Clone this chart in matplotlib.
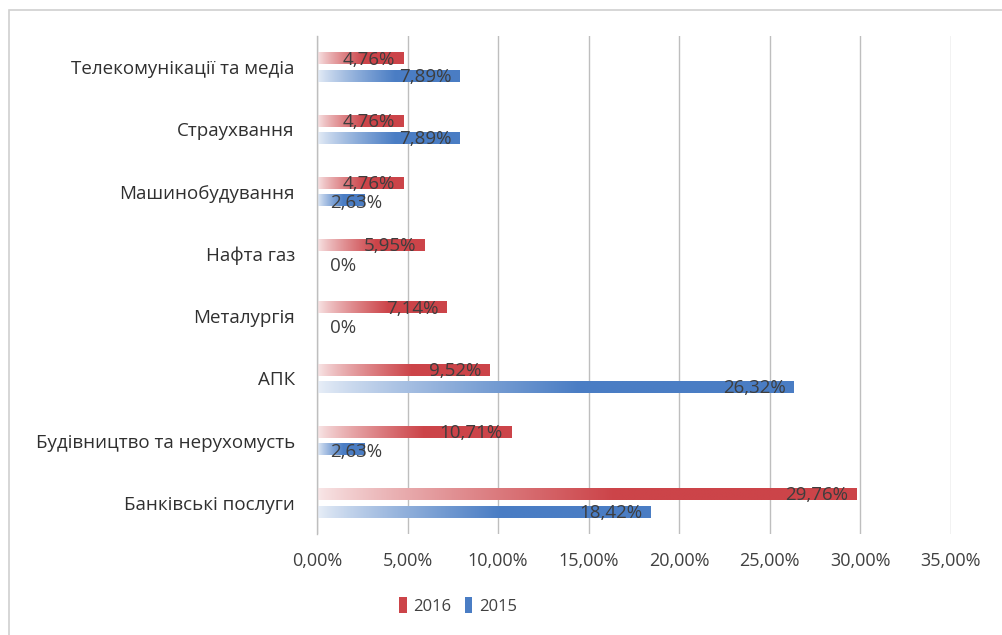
import numpy as np
import matplotlib
matplotlib.use("Agg")
import matplotlib.pyplot as plt
from matplotlib.colors import to_rgb
from matplotlib.patches import Patch, Rectangle

plt.rcParams['font.family'] = ['Open Sans', 'DejaVu Sans']

categories = ["Банківські послуги", "Будівництво та нерухомусть", "АПК", "Металургія",
              "Нафта газ", "Машинобудування", "Страухвання", "Телекомунікації та медіа"]
values_2016 = [29.76, 10.71, 9.52, 7.14, 5.95, 4.76, 4.76, 4.76]
values_2015 = [18.42, 2.63, 26.32, 0.0, 0.0, 2.63, 7.89, 7.89]
x_ticks = [0, 5, 10, 15, 20, 25, 30, 35]

color_2016 = "#CC4449"
color_2015 = "#4A7DC4"
label_color = "#3E3E3E"


def fmt(v):
    if v == 0:
        return "0%"
    return f"{v:.2f}".replace(".", ",") + "%"


def gradient_image(color, n=256):
    t = np.linspace(0, 1, n)
    a = 0.12 + 0.88 * np.clip(t / 0.55, 0, 1) ** 0.8
    c = np.array(to_rgb(color))
    rgb = (1 - a)[:, None] * np.ones(3) + a[:, None] * c
    return rgb[None, :, :]


fig = plt.figure(figsize=(10.02, 6.35), dpi=100)
fig.patch.set_facecolor("white")
# outer frame of the chart area
fig.add_artist(Rectangle((9 / 1002, -0.05), 1.1, 1 - 10 / 635 + 0.05, transform=fig.transFigure,
                         fill=False, edgecolor="#D0D0D0", linewidth=1.2))

ax = fig.add_axes([317 / 1002, 1 - 534 / 635, 634 / 1002, 498 / 635])

y = np.arange(len(categories))
h = 0.19
off = 0.14

for yi, v16, v15 in zip(y, values_2016, values_2015):
    for v, yc, col in ((v16, yi + off, color_2016), (v15, yi - off, color_2015)):
        ax.barh(yc, v, height=h, color="none", edgecolor="none")
        if v > 0:
            ax.imshow(gradient_image(col), extent=[0, v, yc - h / 2, yc + h / 2],
                      aspect="auto", interpolation="bilinear", zorder=2)
        # value label at the inside end of the bar
        if v >= 4:
            ax.text(v - 0.45, yc - 0.02, fmt(v), ha="right", va="center",
                    fontsize=13.5, color=label_color, zorder=3)
        else:
            ax.text(0.7, yc - 0.05, fmt(v), ha="left", va="center",
                    fontsize=13.5, color=label_color, zorder=3)

ax.set_xlim(0, 35)
ax.set_ylim(-0.5, len(categories) - 0.5)
ax.set_xticks(x_ticks)
ax.set_xticklabels([f"{t:.2f}".replace(".", ",") + "%" for t in x_ticks],
                   fontsize=13, color="#404040")
ax.set_yticks(y)
ax.set_yticklabels(categories, fontsize=13.5, color="#303030")
ax.tick_params(axis="both", length=0)
ax.tick_params(axis="x", pad=13)
ax.tick_params(axis="y", pad=16)
ax.xaxis.grid(True, color="#BEBEBE", linewidth=1.0)
ax.set_axisbelow(True)
for s in ("top", "right", "bottom"):
    ax.spines[s].set_visible(False)
ax.spines["left"].set_color("#BEBEBE")
ax.spines["left"].set_linewidth(1.0)

handles = [Patch(facecolor=color_2016, edgecolor="none", label="2016"),
           Patch(facecolor=color_2015, edgecolor="none", label="2015")]
fig.legend(handles=handles, loc="center", bbox_to_anchor=(458 / 1002, 1 - 606 / 635),
           ncol=2, frameon=False, fontsize=12, handlelength=0.45, handleheight=1.1,
           handletextpad=0.4, columnspacing=0.8, labelcolor="#404040")

fig.savefig("out.png", dpi=100, facecolor="white")
